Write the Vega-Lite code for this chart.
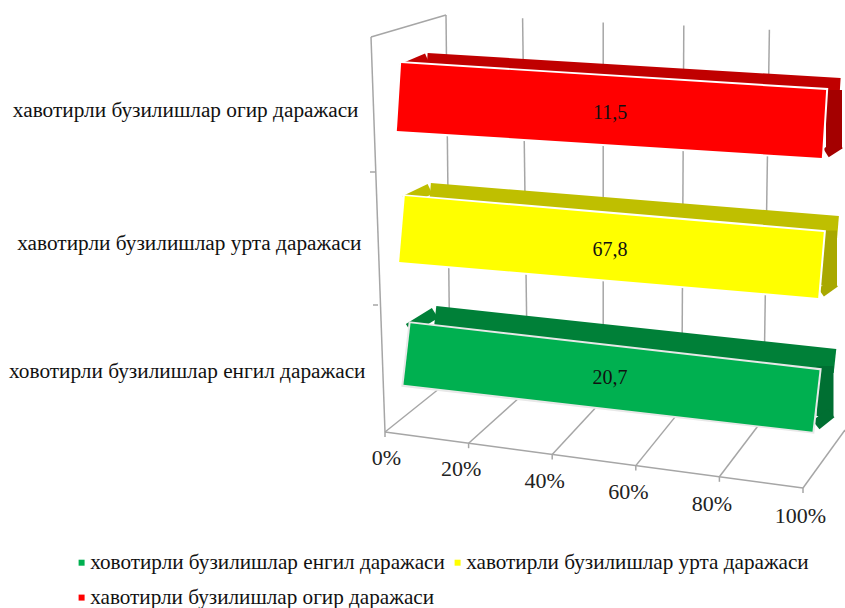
{
"$schema":"https://vega.github.io/schema/vega-lite/v6.json",
"width":418,"height":440,
"autosize":{"type":"none"},
"padding":{"left":385,"top":0,"right":42,"bottom":168},
"background":"white",
"config":{"font":"Liberation Serif","view":{"stroke":null}},
"resolve":{"scale":{"y":"independent"}},
"layer":[
{"data":{"values":[{"tick":0},{"tick":20},{"tick":40},{"tick":60},{"tick":80},{"tick":100}]},
 "encoding":{
  "x":{"field":"tick","type":"quantitative","scale":{"domain":[0,100],"nice":false,"zero":true},
    "axis":{"values":[0,20,40,60,80,100],"title":null,"domain":false,"ticks":false,"grid":false,"labelExpr":"datum.value+'%'","labelFontSize":22,"labelColor":"#222","labelPadding":0,"labelFlush":false,"labelOverlap":false,
     "encoding":{"labels":{"dx":{"value":{"expr":"datum.value==0?1:(datum.value==100?-3:-8)"}},"dy":{"value":{"expr":"7+datum.value*0.58"}}}}}},
  "x2":{"field":"tick"},
  "y":{"field":"tick","type":"quantitative","scale":{"domain":[0,100],"range":[432,488],"nice":false,"zero":true},"axis":null},
  "y2":{"field":"tick"}
 },
 "layer":[
  {"transform":[{"filter":"datum.tick==0"}],"mark":{"type":"rule","color":"#a6a6a6","strokeWidth":1.5,"x2Offset":65,"y2Offset":-52}},
  {"transform":[{"filter":"datum.tick==20"}],"mark":{"type":"rule","color":"#a6a6a6","strokeWidth":1.5,"x2Offset":59,"y2Offset":-53}},
  {"transform":[{"filter":"datum.tick==40"}],"mark":{"type":"rule","color":"#a6a6a6","strokeWidth":1.5,"x2Offset":51,"y2Offset":-55}},
  {"transform":[{"filter":"datum.tick==60"}],"mark":{"type":"rule","color":"#a6a6a6","strokeWidth":1.5,"x2Offset":46,"y2Offset":-57}},
  {"transform":[{"filter":"datum.tick==80"}],"mark":{"type":"rule","color":"#a6a6a6","strokeWidth":1.5,"x2Offset":44,"y2Offset":-58}},
  {"transform":[{"filter":"datum.tick==100"}],"mark":{"type":"rule","color":"#a6a6a6","strokeWidth":1.5,"x2Offset":42,"y2Offset":-58}},
  {"transform":[{"filter":"datum.tick==0"}],"mark":{"type":"rule","color":"#a6a6a6","strokeWidth":1.5,"xOffset":65,"yOffset":-52,"x2Offset":61,"y2Offset":-417}},
  {"transform":[{"filter":"datum.tick==20"}],"mark":{"type":"rule","color":"#a6a6a6","strokeWidth":1.5,"xOffset":59,"yOffset":-53,"x2Offset":54,"y2Offset":-425}},
  {"transform":[{"filter":"datum.tick==40"}],"mark":{"type":"rule","color":"#a6a6a6","strokeWidth":1.5,"xOffset":51,"yOffset":-55,"x2Offset":51,"y2Offset":-432}},
  {"transform":[{"filter":"datum.tick==60"}],"mark":{"type":"rule","color":"#a6a6a6","strokeWidth":1.5,"xOffset":46,"yOffset":-57,"x2Offset":48,"y2Offset":-440}},
  {"transform":[{"filter":"datum.tick==80"}],"mark":{"type":"rule","color":"#a6a6a6","strokeWidth":1.5,"xOffset":44,"yOffset":-58,"x2Offset":50,"y2Offset":-447}},
  {"transform":[{"filter":"datum.tick==0"}],"mark":{"type":"rule","color":"#a6a6a6","strokeWidth":1.5,"x2Offset":-14,"y2Offset":-395}},
  {"transform":[{"filter":"datum.tick==0"}],"mark":{"type":"rule","color":"#a6a6a6","strokeWidth":1.5,"xOffset":-14,"yOffset":-395,"x2Offset":61,"y2Offset":-417}},
  {"transform":[{"filter":"datum.tick==0"}],"mark":{"type":"rule","color":"#a6a6a6","strokeWidth":1.5,"xOffset":-10,"yOffset":-260,"x2Offset":-15,"y2Offset":-260}},
  {"transform":[{"filter":"datum.tick==0"}],"mark":{"type":"rule","color":"#a6a6a6","strokeWidth":1.5,"xOffset":-7,"yOffset":-127,"x2Offset":-12,"y2Offset":-127}},
  {"transform":[{"filter":"datum.tick==0"}],"encoding":{"x2":{"datum":100},"y2":{"datum":100}},"mark":{"type":"rule","color":"#a6a6a6","strokeWidth":1.5}},
  {"mark":{"type":"rule","color":"#a6a6a6","strokeWidth":1.5,"y2Offset":5}}
 ]},
{"data":{"values":[
  {"category":"хавотирли бузилишлар огир даражаси","value":11.5,"label":"11,5"},
  {"category":"хавотирли бузилишлар урта даражаси","value":67.8,"label":"67,8"},
  {"category":"ховотирли бузилишлар енгил даражаси","value":20.7,"label":"20,7"}]},
 "encoding":{
  "x":{"datum":0,"type":"quantitative"},
  "y":{"field":"category","type":"nominal","sort":null,"scale":{"type":"point","domain":["хавотирли бузилишлар огир даражаси","хавотирли бузилишлар урта даражаси","ховотирли бузилишлар енгил даражаси"],"range":[110,371],"padding":0},
    "axis":{"title":null,"domain":false,"ticks":false,"grid":false,"labelFontSize":21.3,"labelColor":"#111","labelPadding":25,"labelLimit":0,
     "encoding":{"labels":{"dx":{"value":{"expr":"datum.index==0?-2:(datum.index==1?5:1)"}},"dy":{"value":{"expr":"datum.index==0.5?2.5:0"}}}}}}
 },
 "layer":[
  {"mark":{"type":"point","shape":"square","filled":true,"size":30,"opacity":1},
   "encoding":{"x":{"datum":50},"color":{"field":"category","type":"nominal","scale":{"domain":["ховотирли бузилишлар енгил даражаси","хавотирли бузилишлар урта даражаси","хавотирли бузилишлар огир даражаси"],"range":["#00b050","#ffff00","#ff0000"]},
     "legend":{"title":null,"orient":"none","direction":"horizontal","legendX":-314,"legendY":552,"columns":2,"symbolType":"square","symbolSize":36,"labelFontSize":21.2,"labelColor":"#111","labelLimit":0,"rowPadding":13,"columnPadding":2,"labelOffset":-2,"symbolOpacity":1}}}},

  {"transform":[{"filter":"datum.value==11.5"}],"encoding":{"x2":{"datum":100},"y2":{"field":"category"}},
   "layer":[
    {"mark":{"type":"rule","color":"#c00000","strokeWidth":20,"xOffset":42,"x2Offset":37,"yOffset":-47,"y2Offset":-22}},
    {"encoding":{"x2":{"datum":0}},"mark":{"type":"rule","color":"#c00000","strokeWidth":10,"xOffset":16,"x2Offset":42,"yOffset":-41,"y2Offset":-52}},
    {"mark":{"type":"rule","color":"#a40000","strokeWidth":16,"xOffset":449,"x2Offset":31,"yOffset":-20,"y2Offset":39}},
    {"encoding":{"x2":{"datum":0}},"mark":{"type":"rule","color":"#a40000","strokeWidth":10,"xOffset":441,"x2Offset":455,"yOffset":43,"y2Offset":34}},
    {"mark":{"type":"rule","color":"#ffffff","strokeWidth":72,"xOffset":12,"x2Offset":23,"yOffset":-13,"y2Offset":14}},
    {"mark":{"type":"rule","color":"#ff0000","strokeWidth":68,"xOffset":14,"x2Offset":21,"yOffset":-13,"y2Offset":14}},
    {"mark":{"type":"text","fontSize":20,"color":"#111","xOffset":16,"dy":3},"encoding":{"x":{"datum":50},"x2":null,"y2":null,"text":{"field":"label"}}}
   ]},
  {"transform":[{"filter":"datum.value==67.8"}],"encoding":{"x2":{"datum":100},"y2":{"field":"category"}},
   "layer":[
    {"mark":{"type":"rule","color":"#bfbf00","strokeWidth":22,"xOffset":45,"x2Offset":35,"yOffset":-46.5,"y2Offset":-13.5}},
    {"encoding":{"x2":{"datum":0}},"mark":{"type":"rule","color":"#bfbf00","strokeWidth":11,"xOffset":20,"x2Offset":45,"yOffset":-39.5,"y2Offset":-51.5}},
    {"mark":{"type":"rule","color":"#a8a800","strokeWidth":16,"xOffset":444,"x2Offset":26,"yOffset":-10,"y2Offset":45}},
    {"encoding":{"x2":{"datum":0}},"mark":{"type":"rule","color":"#a8a800","strokeWidth":10,"xOffset":436,"x2Offset":450,"yOffset":52,"y2Offset":42}},
    {"mark":{"type":"rule","color":"#ffffff","strokeWidth":70,"xOffset":15,"x2Offset":20,"yOffset":-11.5,"y2Offset":24.5}},
    {"mark":{"type":"rule","color":"#ffff00","strokeWidth":66,"xOffset":17,"x2Offset":18,"yOffset":-11.5,"y2Offset":24.5}},
    {"mark":{"type":"text","fontSize":20,"color":"#111","xOffset":16,"dy":9},"encoding":{"x":{"datum":50},"x2":null,"y2":null,"text":{"field":"label"}}}
   ]},
  {"transform":[{"filter":"datum.value==20.7"}],"encoding":{"x2":{"datum":100},"y2":{"field":"category"}},
   "layer":[
    {"mark":{"type":"rule","color":"#008038","strokeWidth":24,"xOffset":50,"x2Offset":32,"yOffset":-53,"y2Offset":-10}},
    {"encoding":{"x2":{"datum":0}},"mark":{"type":"rule","color":"#008038","strokeWidth":12,"xOffset":24,"x2Offset":50,"yOffset":-42,"y2Offset":-58}},
    {"mark":{"type":"rule","color":"#006f32","strokeWidth":17,"xOffset":440,"x2Offset":22,"yOffset":-5,"y2Offset":45}},
    {"encoding":{"x2":{"datum":0}},"mark":{"type":"rule","color":"#006f32","strokeWidth":11,"xOffset":431,"x2Offset":446,"yOffset":54,"y2Offset":42}},
    {"mark":{"type":"rule","color":"#e8e8e8","strokeWidth":66,"xOffset":20,"x2Offset":15,"yOffset":-17,"y2Offset":30}},
    {"mark":{"type":"rule","color":"#00b050","strokeWidth":62,"xOffset":22,"x2Offset":13,"yOffset":-17,"y2Offset":30}},
    {"mark":{"type":"text","fontSize":20,"color":"#111","xOffset":16,"dy":7},"encoding":{"x":{"datum":50},"x2":null,"y2":null,"text":{"field":"label"}}}
   ]}
 ]}
]
}
